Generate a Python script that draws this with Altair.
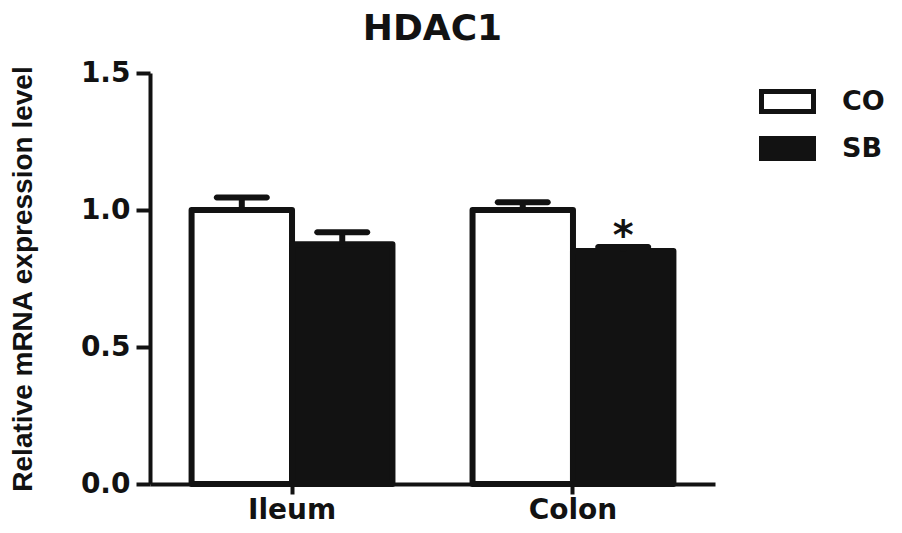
import altair as alt
import pandas as pd

# Data
sites = ["Ileum", "Ileum", "Colon", "Colon"]
groups = ["CO", "SB", "CO", "SB"]
means = [1.00, 0.875, 1.00, 0.85]
sems = [0.046, 0.044, 0.028, 0.015]
sig = ["", "", "", "*"]

site_order = ["Ileum", "Colon"]
group_order = ["CO", "SB"]
fill_colors = ["white", "#121212"]

df = pd.DataFrame({
    "site": sites,
    "group": groups,
    "mean": means,
    "sem": sems,
    "sig": sig,
})
df["upper"] = df["mean"] + df["sem"]

INK = "#121212"
TICK_FONT = "DejaVu Sans"

x_enc = alt.X(
    "site:N",
    sort=site_order,
    scale=alt.Scale(paddingInner=0.285, paddingOuter=0.148),
    axis=alt.Axis(
        title=None, labelAngle=0, labelFont=TICK_FONT, labelFontSize=28,
        labelFontWeight="bold", labelColor=INK, labelPadding=2,
        domainColor=INK, domainWidth=4, tickColor=INK, tickWidth=4, tickSize=10,
    ),
)
xoff = alt.XOffset("group:N", sort=group_order, scale=alt.Scale(paddingInner=0, paddingOuter=0))

y_scale = alt.Scale(domain=[0, 1.5], nice=False)

bars = alt.Chart(df).mark_bar(stroke=INK, strokeWidth=6, strokeJoin="round").encode(
    x=x_enc,
    xOffset=xoff,
    y=alt.Y(
        "mean:Q",
        scale=y_scale,
        axis=alt.Axis(
            title="Relative mRNA expression level",
            titleFont="Liberation Sans", titleFontSize=28, titleFontWeight="bold",
            titleColor=INK, titlePadding=43,
            values=[0, 0.5, 1.0, 1.5], format=".1f",
            labelFont=TICK_FONT, labelFontSize=28, labelFontWeight="bold",
            labelColor=INK, labelPadding=6,
            domainColor=INK, domainWidth=4, tickColor=INK, tickWidth=4, tickSize=14,
            grid=False,
        ),
    ),
    fill=alt.Fill(
        "group:N",
        sort=group_order,
        scale=alt.Scale(domain=group_order, range=fill_colors),
        legend=alt.Legend(
            title=None, orient="none", legendX=615, legendY=6,
            symbolType="M-1.3,-0.5L1.3,-0.5L1.3,0.5L-1.3,0.5Z",
            symbolSize=1600, symbolStrokeColor=INK, symbolStrokeWidth=5,
            symbolOpacity=1,
            labelFont=TICK_FONT, labelFontSize=27, labelFontWeight="bold",
            labelColor=INK, labelOffset=32, rowPadding=4, padding=0,
        ),
    ),
)

stems = alt.Chart(df).mark_rule(color=INK, strokeWidth=6).encode(
    x=alt.X("site:N", sort=site_order),
    xOffset=xoff,
    y=alt.Y("mean:Q", scale=y_scale),
    y2="upper:Q",
)

caps = alt.Chart(df).mark_tick(color=INK, thickness=6, size=56, cornerRadius=3, opacity=1).encode(
    x=alt.X("site:N", sort=site_order),
    xOffset=xoff,
    y=alt.Y("upper:Q", scale=y_scale),
)

stars = alt.Chart(df).mark_text(
    font=TICK_FONT, fontSize=40, fontWeight="bold", color=INK, baseline="alphabetic", dy=2
).encode(
    x=alt.X("site:N", sort=site_order),
    xOffset=xoff,
    y=alt.Y("upper:Q", scale=y_scale),
    text="sig:N",
)

chart = alt.layer(bars, stems, caps, stars).properties(
    width=565,
    height=411,
    title=alt.Title("HDAC1", font=TICK_FONT, fontSize=36, fontWeight="bold",
                    color=INK, anchor="middle", offset=11),
    autosize=alt.AutoSizeParams(type="none"),
    padding={"left": 142, "top": 65, "right": 178, "bottom": 40},
).configure(background="white").configure_view(stroke="transparent", strokeWidth=0)

chart.save("out.html", embed_options={"renderer": "svg", "actions": False})
